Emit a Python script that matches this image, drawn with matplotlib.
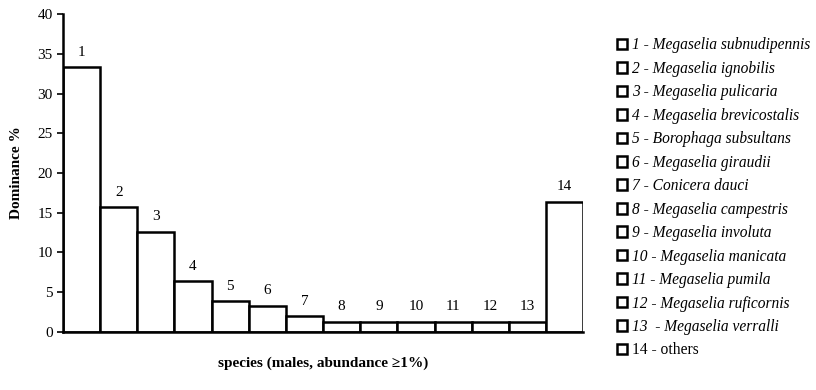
import numpy as np
import matplotlib.pyplot as plt
from matplotlib.patches import Patch

species_no = ["1", "2", "3", "4", "5", "6", "7", "8", "9", "10", "11", "12", "13", "14"]
dominance = [33.3, 15.7, 12.6, 6.4, 3.9, 3.3, 2.0, 1.3, 1.3, 1.3, 1.3, 1.3, 1.3, 16.4]
legend_labels = [
    "1 - Megaselia subnudipennis",
    "2 - Megaselia ignobilis",
    "3 - Megaselia pulicaria",
    "4 - Megaselia brevicostalis",
    "5 - Borophaga subsultans",
    "6 - Megaselia giraudii",
    "7 - Conicera dauci",
    "8 - Megaselia campestris",
    "9 - Megaselia involuta",
    "10 - Megaselia manicata",
    "11 - Megaselia pumila",
    "12 - Megaselia ruficornis",
    "13  - Megaselia verralli",
    "14 - others",
]

plt.rcParams['font.family'] = ['Liberation Serif', 'DejaVu Serif']

fig = plt.figure(figsize=(8.16, 3.9), dpi=100)
ax = fig.add_axes([0.0772, 0.149, 0.6375, 0.815])

x = np.arange(len(dominance))
ax.bar(x, dominance, width=1.0, align='edge', color='white', edgecolor='black', linewidth=1.8)
for xi, v, lab in zip(x, dominance, species_no):
    ax.annotate(lab, (xi + 0.5, v), xytext=(0, 6), textcoords='offset points',
                ha='center', va='bottom', fontsize=11)

ax.set_xlim(0, len(dominance))
ax.set_ylim(0, 40)
ax.set_yticks(np.arange(0, 41, 5))
ax.set_xticks([])
ax.tick_params(axis='y', labelsize=11, length=4, width=1.2, direction='out')
for s in ['top', 'right']:
    ax.spines[s].set_visible(False)
ax.spines['left'].set_linewidth(1.8)
ax.spines['bottom'].set_linewidth(1.8)
ax.set_ylabel("Dominance %", fontsize=11, fontweight='bold', labelpad=10)
ax.set_xlabel("species (males, abundance \u22651%)", fontsize=11, fontweight='bold', labelpad=18)

handles = [Patch(facecolor='white', edgecolor='black', linewidth=1.8) for _ in legend_labels]
leg = fig.legend(handles, legend_labels, loc='upper left', bbox_to_anchor=(0.739, 0.94),
                 frameon=False, handlelength=0.67, handleheight=0.67, handletextpad=0.3,
                 labelspacing=0.48, prop={'size': 11.2, 'style': 'italic'})
leg.get_texts()[-1].set_style('normal')

fig.savefig("out.png", dpi=100)
